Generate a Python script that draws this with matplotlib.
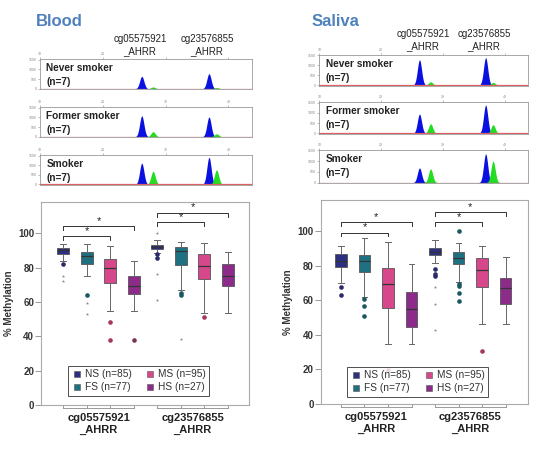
import numpy as np
import matplotlib
matplotlib.use("Agg")
import matplotlib.pyplot as plt
from matplotlib.lines import Line2D
from matplotlib.transforms import blended_transform_factory

plt.rcParams['font.family'] = ['Liberation Sans', 'DejaVu Sans']

# ---- data ----
groups = ["NS", "FS", "MS", "HS"]
group_counts = ["NS (n=85)", "FS (n=77)", "MS (n=95)", "HS (n=27)"]
cpg_sites = ["cg05575921\n_AHRR", "cg23576855\n_AHRR"]
panel_labels = ["Never smoker\n(n=7)", "Former smoker\n(n=7)", "Smoker\n(n=7)"]

# pyrogram peak positions (dispensation axis) and relative heights per panel
peak_pos = [26.2, 28.0, 36.9, 38.1]
peak_kind = ["C", "T", "C", "T"]
blood_peaks = [[0.42, 0.06, 0.51, 0.04],
               [0.71, 0.17, 0.67, 0.10],
               [0.73, 0.45, 0.93, 0.50]]
saliva_peaks = [[0.84, 0.11, 0.91, 0.09],
                [0.62, 0.31, 0.91, 0.28],
                [0.45, 0.42, 0.88, 0.66]]

# box plot stats, order: NS FS MS HS (cg05575921), NS FS MS HS (cg23576855)
blood_med = [90, 87, 79.5, 69.5, 92, 89.5, 81, 75]
blood_q1 = [88, 82, 71.3, 64.5, 91, 81.5, 73.6, 69.4]
blood_q3 = [91.5, 89, 85.2, 75.1, 93, 92.1, 87.7, 81.9]
blood_lo = [84, 75, 54.5, 54.5, 88.2, 67, 53.6, 53.6]
blood_hi = [93.8, 94, 92.5, 84, 96.3, 95, 94.4, 89]
blood_dots = [[82], [64.2], [48.2, 37.6], [37.6], [87.7, 85.7], [65, 64], [51], []]
blood_stars = [[75, 72], [59.5, 53], [], [], [100.2, 76.5, 61], [38.2], [], []]
blood_sig = [(0, 2, 98.3), (0, 3, 104.0), (4, 6, 106.4), (4, 7, 111.8)]

sal_med = [82.9, 82.9, 69.2, 55, 88, 84.5, 77.5, 67]
sal_q1 = [79.4, 76.3, 55.4, 44.8, 86.2, 81, 67.9, 57.7]
sal_q3 = [86.5, 86.2, 78.8, 64.6, 90, 88.1, 84.4, 73.1]
sal_lo = [70.2, 62, 34.6, 34.6, 81.5, 70.5, 46.5, 46.5]
sal_hi = [91.5, 96.2, 93.5, 80.8, 94.8, 92.9, 91.3, 85.3]
sal_dots = [[67.9, 63], [60.8, 56.5, 51], [19.4], [], [78, 75, 74],
            [100, 69.5, 68, 64, 59.5], [30.6], []]
sal_stars = [[], [], [], [], [67.5, 58, 43], [], [], []]
sal_sig = [(0, 2, 99.2), (0, 3, 105.0), (4, 6, 105.0), (4, 7, 110.8)]

box_colors = ['#2d2f80', '#1f7182', '#d6488b', '#8c2b8a']
dot_colors = ['#2a2c6a', '#1b5864', '#a23a5c', '#7a3356']
peak_colors = {"C": '#0a10e0', "T": '#22dd22'}
title_color = '#4f81bd'


def draw_pyro(ax, heights, label, top_labels):
    x = np.linspace(10, 44, 900)
    for pos, h, kind in zip(peak_pos, heights, peak_kind):
        y = h * np.exp(-0.5 * ((x - pos) / 0.34) ** 2)
        ax.fill_between(x, 0, y, color=peak_colors[kind], lw=0)
    ax.axhline(0, color='#e06060', lw=0.9)
    ax.set_xlim(10, 43.7)
    ax.set_ylim(-0.02, 1.0)
    ax.xaxis.tick_top()
    ax.set_xticks([10, 20, 30, 40])
    ax.set_xticklabels(top_labels)
    ax.set_yticks([0, 0.33, 0.66, 0.99])
    ax.set_yticklabels(['0', '500', '1000', '1500'])
    ax.tick_params(labelsize=2.5, length=1.5, width=0.4, colors='#888888', pad=1)
    for s in ax.spines.values():
        s.set_color('#999999')
        s.set_linewidth(0.6)
    ax.text(0.03, 0.88, label, transform=ax.transAxes, va='top', ha='left',
            fontsize=7.3, fontweight='bold', linespacing=1.5, color='#222222')


def draw_box(ax, med, q1, q3, lo, hi, dots, stars, sig, xlim, leg_anchor):
    stats = []
    for i in range(len(med)):
        stats.append(dict(med=med[i], q1=q1[i], q3=q3[i],
                          whislo=lo[i], whishi=hi[i], fliers=[]))
    pos = np.arange(len(med))
    bp = ax.bxp(stats, positions=pos, widths=0.5, patch_artist=True,
                showfliers=False,
                boxprops=dict(edgecolor='#555555', linewidth=0.6),
                medianprops=dict(color='#333333', linewidth=0.9),
                whiskerprops=dict(color='#666666', linewidth=0.7),
                capprops=dict(color='#666666', linewidth=0.7))
    for i, patch in enumerate(bp['boxes']):
        patch.set_facecolor(box_colors[i % 4])
    for i in range(len(med)):
        if dots[i]:
            ax.scatter([i] * len(dots[i]), dots[i], s=11,
                       color=dot_colors[i % 4], zorder=3, lw=0)
        if stars[i]:
            ax.scatter([i] * len(stars[i]), stars[i], s=6, marker='*',
                       color='#888888', zorder=3, lw=0)
    # significance brackets
    for a, b, y in sig:
        ax.plot([a, a, b, b], [y - 2.2, y, y, y - 2.2], color='#333333', lw=0.7)
        ax.text((a + b) / 2, y + 0.3, '*', ha='center', va='bottom',
                fontsize=8, color='#222222')
    ax.set_xlim(*xlim)
    ax.set_ylim(0, 118)
    ax.set_yticks([0, 20, 40, 60, 80, 100])
    ax.set_yticklabels(['0', '20', '40', '60', '80', '100'],
                       fontsize=7, fontweight='bold', color='#333333')
    ax.tick_params(axis='y', length=4, width=0.6, color='#888888', pad=1)
    ax.set_xticks([])
    for s in ax.spines.values():
        s.set_color('#aaaaaa')
        s.set_linewidth(0.8)
    ax.set_ylabel('% Methylation', fontsize=7, fontweight='bold',
                  color='#333333', labelpad=3)
    # category cells under the axis
    tr = blended_transform_factory(ax.transData, ax.transAxes)
    for g in range(2):
        xs = pos[g * 4:(g + 1) * 4]
        ax.plot([xs[0], xs[-1]], [-0.016, -0.016], transform=tr,
                color='#999999', lw=0.7, clip_on=False)
        for xv in xs:
            ax.plot([xv, xv], [0, -0.016], transform=tr,
                    color='#999999', lw=0.7, clip_on=False)
        ax.text(xs.mean(), -0.04, cpg_sites[g], transform=tr, ha='center',
                va='top', fontsize=8, fontweight='bold', color='#222222',
                linespacing=1.25)
    handles = [Line2D([], [], marker='s', ls='', markersize=5,
                      markerfacecolor=c, markeredgecolor='#555555',
                      markeredgewidth=0.4) for c in box_colors]
    leg = ax.legend(handles, group_counts, ncol=2, loc='lower center',
                    bbox_to_anchor=leg_anchor, fontsize=7.3, frameon=True,
                    fancybox=False, edgecolor='#222222', handletextpad=0.3,
                    columnspacing=1.3, borderpad=0.35, labelspacing=0.3,
                    handlelength=1.0)
    leg.get_frame().set_linewidth(0.7)
    for t in leg.get_texts():
        t.set_color('#333333')


fig = plt.figure(figsize=(5.41, 4.5), dpi=100)

# titles
fig.text(36 / 541, 1 - 21 / 450, 'Blood', fontsize=12, fontweight='bold',
         color=title_color, va='center', ha='left')
fig.text(312 / 541, 1 - 21 / 450, 'Saliva', fontsize=12, fontweight='bold',
         color=title_color, va='center', ha='left')

# site headers above pyrograms
for xc, txt in zip([140, 207], cpg_sites):
    fig.text(xc / 541, 1 - 45 / 450, txt, fontsize=7, ha='center',
             va='center', color='#222222', linespacing=1.2)
for xc, txt in zip([423, 484], cpg_sites):
    fig.text(xc / 541, 1 - 40 / 450, txt, fontsize=7, ha='center',
             va='center', color='#222222', linespacing=1.2)

# pyrogram panels (top row labels partly hidden under the site headers)
full_labels = ['10', '20', '30', '40']
first_labels = ['10', '20', '', '']
blood_rects = [(40, 59.3, 89.3), (40, 107.3, 137.3), (40, 155.3, 185)]
sal_rects = [(319.3, 55, 85.7), (319.3, 102.3, 134), (319.3, 150, 183.3)]
for i, (x0, yt, yb) in enumerate(blood_rects):
    ax = fig.add_axes([x0 / 541, 1 - yb / 450, 211.7 / 541, (yb - yt) / 450])
    draw_pyro(ax, blood_peaks[i], panel_labels[i],
              first_labels if i == 0 else full_labels)
for i, (x0, yt, yb) in enumerate(sal_rects):
    ax = fig.add_axes([x0 / 541, 1 - yb / 450, 208.4 / 541, (yb - yt) / 450])
    draw_pyro(ax, saliva_peaks[i], panel_labels[i],
              first_labels if i == 0 else full_labels)

# box plots
ax_b = fig.add_axes([41 / 541, 1 - 405 / 450, 208 / 541, 202.7 / 450])
draw_box(ax_b, blood_med, blood_q1, blood_q3, blood_lo, blood_hi,
         blood_dots, blood_stars, blood_sig, (-0.95, 7.9), (0.47, 0.02))
ax_s = fig.add_axes([320.5 / 541, 1 - 404 / 450, 207.2 / 541, 204 / 450])
draw_box(ax_s, sal_med, sal_q1, sal_q3, sal_lo, sal_hi,
         sal_dots, sal_stars, sal_sig, (-0.87, 7.94), (0.47, 0.01))

fig.savefig('out.png', dpi=100)
